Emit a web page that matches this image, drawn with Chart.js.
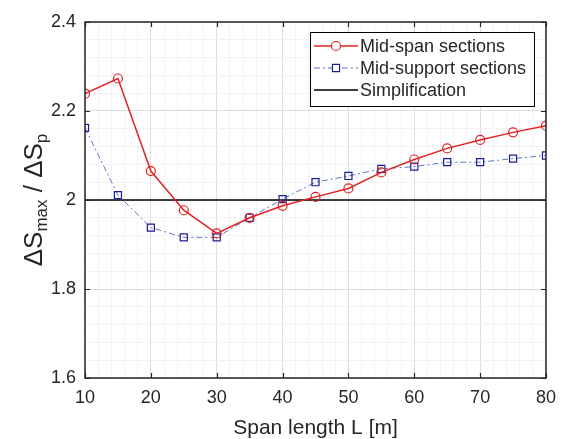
<!DOCTYPE html>
<html lang="en">
<head>
  <meta charset="UTF-8">
  <title>Span length vs stress ratio</title>
  <script src="https://cdn.jsdelivr.net/npm/chart.js"></script>
  <style>
    body {
      margin: 0;
      background: #fff;
    }
    canvas {
      display: block;
    }
  </style>
</head>
<body>
  <canvas id="chart" width="565" height="439"></canvas>
  <script>
    const spans = [10, 15, 20, 25, 30, 35, 40, 45, 50, 55, 60, 65, 70, 75, 80];
    const midSpan = [2.239, 2.273, 2.065, 1.977, 1.925, 1.960, 1.987, 2.007, 2.026, 2.062, 2.091, 2.116, 2.135, 2.152, 2.167];
    const midSupport = [2.162, 2.011, 1.938, 1.916, 1.916, 1.960, 2.002, 2.040, 2.054, 2.070, 2.075, 2.085, 2.085, 2.093, 2.100];
    const simplificationX = [10, 80];
    const simplificationY = [2, 2];
    const xTicks = [10, 20, 30, 40, 50, 60, 70, 80];
    const yTicks = [1.6, 1.8, 2.0, 2.2, 2.4];
    const seriesNames = ['Mid-span sections', 'Mid-support sections', 'Simplification'];

    const FONT = "'Liberation Sans', Arial, sans-serif";
    const TEXT = '#262626';

    const isTick = (list, v) => list.some(t => Math.abs(t - v) < 1e-6);

    // axes box with inward tick marks, like matlab
    const boxAxes = {
      id: 'boxAxes',
      afterDatasetsDraw(chart) {
        const ctx = chart.ctx;
        const a = chart.chartArea;
        const xs = chart.scales.x, ys = chart.scales.y;
        ctx.save();
        ctx.strokeStyle = TEXT;
        ctx.lineWidth = 1.2;
        ctx.beginPath();
        xTicks.forEach(v => {
          const px = Math.round(xs.getPixelForValue(v)) + 0.5;
          ctx.moveTo(px, a.bottom); ctx.lineTo(px, a.bottom - 5);
          ctx.moveTo(px, a.top); ctx.lineTo(px, a.top + 5);
        });
        yTicks.forEach(v => {
          const py = Math.round(ys.getPixelForValue(v)) + 0.5;
          ctx.moveTo(a.left, py); ctx.lineTo(a.left + 5, py);
          ctx.moveTo(a.right, py); ctx.lineTo(a.right - 5, py);
        });
        ctx.stroke();
        ctx.lineWidth = 1.5;
        ctx.strokeRect(a.left, a.top, a.right - a.left, a.bottom - a.top);
        ctx.restore();
      }
    };

    // y title with subscripts
    const yTitle = {
      id: 'yTitle',
      afterDraw(chart) {
        const ctx = chart.ctx;
        const a = chart.chartArea;
        const parts = [
          ['\u0394S', 26, 0], ['max', 17, 5], [' / ', 26, 0], ['\u0394S', 26, 0], ['p', 17, 5]
        ];
        ctx.save();
        ctx.fillStyle = TEXT;
        ctx.textBaseline = 'alphabetic';
        let total = 0;
        parts.forEach(p => { ctx.font = p[1] + 'px ' + FONT; total += ctx.measureText(p[0]).width; });
        ctx.translate(42, (a.top + a.bottom) / 2);
        ctx.rotate(-Math.PI / 2);
        let u = -total / 2;
        parts.forEach(p => {
          ctx.font = p[1] + 'px ' + FONT;
          ctx.fillText(p[0], u, p[2]);
          u += ctx.measureText(p[0]).width;
        });
        ctx.restore();
      }
    };

    // legend box in the upper right corner of the axes
    const boxLegend = {
      id: 'boxLegend',
      afterDraw(chart) {
        const ctx = chart.ctx;
        const a = chart.chartArea;
        const x0 = a.right - 236, y0 = a.top + 10, w = 224, h = 74;
        ctx.save();
        ctx.fillStyle = '#fff';
        ctx.fillRect(x0, y0, w, h);
        ctx.strokeStyle = '#000';
        ctx.lineWidth = 1;
        ctx.strokeRect(x0 + 0.5, y0 + 0.5, w, h);
        chart.data.datasets.forEach((ds, i) => {
          const cy = y0 + 14 + i * 22;
          ctx.strokeStyle = ds.borderColor;
          ctx.lineWidth = ds.borderWidth;
          ctx.setLineDash(ds.borderDash || []);
          ctx.beginPath();
          ctx.moveTo(x0 + 4, cy); ctx.lineTo(x0 + 48, cy);
          ctx.stroke();
          ctx.setLineDash([]);
          if (ds.pointRadius > 0) {
            ctx.fillStyle = '#fff';
            ctx.strokeStyle = ds.pointBorderColor;
            ctx.lineWidth = ds.pointBorderWidth;
            Chart.helpers.drawPoint(ctx, {
              pointStyle: ds.pointStyle,
              radius: ds.pointRadius,
              borderWidth: ds.pointBorderWidth,
              rotation: 0
            }, x0 + 26, cy);
          }
          ctx.fillStyle = TEXT;
          ctx.font = '18px ' + FONT;
          ctx.textBaseline = 'middle';
          ctx.fillText(ds.label, x0 + 50, cy + 1);
        });
        ctx.restore();
      }
    };

    new Chart(document.getElementById('chart'), {
      type: 'line',
      data: {
        datasets: [
          {
            label: seriesNames[0],
            data: spans.map((x, i) => ({ x: x, y: midSpan[i] })),
            borderColor: '#e02424',
            borderWidth: 1.5,
            pointStyle: 'circle',
            pointRadius: 4.5,
            pointBorderWidth: 1.2,
            pointBorderColor: '#e02424',
            pointBackgroundColor: 'rgba(0,0,0,0)'
          },
          {
            label: seriesNames[1],
            data: spans.map((x, i) => ({ x: x, y: midSupport[i] })),
            borderColor: '#5b78c6',
            borderWidth: 1,
            borderDash: [6, 3, 2, 3],
            pointStyle: 'rect',
            pointRadius: 5,
            pointBorderWidth: 1.2,
            pointBorderColor: '#1c1c96',
            pointBackgroundColor: 'rgba(0,0,0,0)'
          },
          {
            label: seriesNames[2],
            data: simplificationX.map((x, i) => ({ x: x, y: simplificationY[i] })),
            borderColor: '#000',
            borderWidth: 1.5,
            pointRadius: 0
          }
        ]
      },
      options: {
        responsive: false,
        animation: false,
        layout: { padding: { top: 22, right: 10, left: 0, bottom: 0 } },
        plugins: {
          legend: { display: false },
          tooltip: { enabled: false }
        },
        elements: { line: { tension: 0 } },
        scales: {
          x: {
            type: 'linear',
            min: 10,
            max: 80,
            afterFit: s => { s.height = 61; },
            ticks: {
              stepSize: 2,
              autoSkip: false,
              maxRotation: 0,
              padding: 9,
              color: TEXT,
              font: { family: FONT, size: 18 },
              callback: v => isTick(xTicks, v) ? String(v) : ''
            },
            grid: {
              drawTicks: false,
              color: c => isTick(xTicks, c.tick.value) ? '#dedede' : '#f3f3f3'
            },
            border: { display: false },
            title: {
              display: true,
              text: 'Span length L [m]',
              color: TEXT,
              font: { family: FONT, size: 21, lineHeight: 1 },
              padding: { top: 0, bottom: 0 }
            }
          },
          y: {
            min: 1.6,
            max: 2.4,
            afterFit: s => { s.width = 85; },
            ticks: {
              stepSize: 0.04,
              autoSkip: false,
              padding: 9,
              color: TEXT,
              font: { family: FONT, size: 18 },
              callback: v => isTick(yTicks, v) ? String(Math.round(v * 10) / 10) : ''
            },
            grid: {
              drawTicks: false,
              color: c => isTick(yTicks, c.tick.value) ? '#dedede' : '#f3f3f3'
            },
            border: { display: false }
          }
        }
      },
      plugins: [boxAxes, yTitle, boxLegend]
    });
  </script>
</body>
</html>
